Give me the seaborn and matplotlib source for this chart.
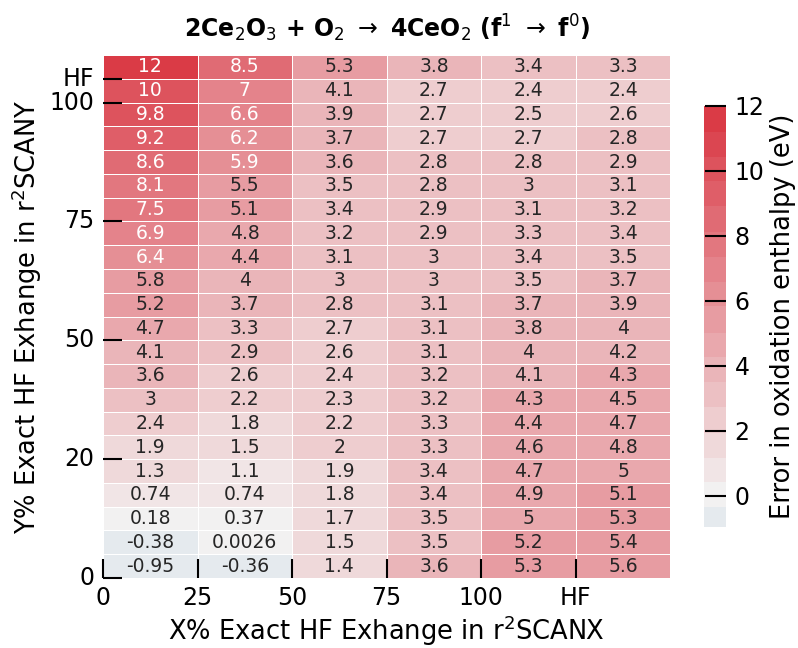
import numpy as np
import pandas as pd
import matplotlib
matplotlib.use('Agg')
import matplotlib.pyplot as plt
import seaborn as sns

# Error in oxidation enthalpy (eV), rows from top (HF) to bottom (0%)
col_0 = [12, 10, 9.8, 9.2, 8.6, 8.1, 7.5, 6.9, 6.4, 5.8, 5.2, 4.7, 4.1, 3.6, 3, 2.4, 1.9, 1.3, 0.74, 0.18, -0.38, -0.95]
col_25 = [8.5, 7, 6.6, 6.2, 5.9, 5.5, 5.1, 4.8, 4.4, 4, 3.7, 3.3, 2.9, 2.6, 2.2, 1.8, 1.5, 1.1, 0.74, 0.37, 0.0026, -0.36]
col_50 = [5.3, 4.1, 3.9, 3.7, 3.6, 3.5, 3.4, 3.2, 3.1, 3, 2.8, 2.7, 2.6, 2.4, 2.3, 2.2, 2, 1.9, 1.8, 1.7, 1.5, 1.4]
col_75 = [3.8, 2.7, 2.7, 2.7, 2.8, 2.8, 2.9, 2.9, 3, 3, 3.1, 3.1, 3.1, 3.2, 3.2, 3.3, 3.3, 3.4, 3.4, 3.5, 3.5, 3.6]
col_100 = [3.4, 2.4, 2.5, 2.7, 2.8, 3, 3.1, 3.3, 3.4, 3.5, 3.7, 3.8, 4, 4.1, 4.3, 4.4, 4.6, 4.7, 4.9, 5, 5.2, 5.3]
col_hf = [3.3, 2.4, 2.6, 2.8, 2.9, 3.1, 3.2, 3.4, 3.5, 3.7, 3.9, 4, 4.2, 4.3, 4.5, 4.7, 4.8, 5, 5.1, 5.3, 5.4, 5.6]

x_tick_pos = [0, 1, 2, 3, 4, 5]
x_tick_labels = ['0', '25', '50', '75', '100', 'HF']
y_tick_pos = [22, 17, 12, 7, 2, 1]
y_tick_labels = ['0', '20', '50', '75', '100', 'HF']

data = pd.DataFrame({'0': col_0, '25': col_25, '50': col_50,
                     '75': col_75, '100': col_100, 'HF': col_hf})

plt.rcParams['font.family'] = ['DejaVu Sans']

fig = plt.figure(figsize=(7.98, 6.48), dpi=100)
ax = fig.add_axes([0.129, 0.108, 0.711, 0.807])
cax = fig.add_axes([0.882, 0.187, 0.028, 0.65])

cmap = sns.diverging_palette(240, 10, n=31)
sns.heatmap(data, ax=ax, cbar_ax=cax, cmap=cmap, center=0,
            annot=True, fmt='.2g', annot_kws={'fontsize': 13.5},
            linewidths=0.6, linecolor='white')

ax.set_xticks(x_tick_pos)
ax.set_xticklabels(x_tick_labels, rotation=0)
ax.set_yticks(y_tick_pos)
ax.set_yticklabels(y_tick_labels, rotation=0)
ax.tick_params(axis='both', direction='in', length=14, width=1.5,
               labelsize=17, color='black', pad=6, bottom=True, left=True)

ax.set_xlabel(r'X% Exact HF Exhange in r$^2$SCANX', fontsize=18.5, labelpad=2)
ax.set_ylabel(r'Y% Exact HF Exhange in r$^2$SCANY', fontsize=18.5)
ax.set_title(r'2Ce$_2$O$_3$ + O$_2$ $\rightarrow$ 4CeO$_2$ (f$^1$ $\rightarrow$ f$^0$)',
             fontsize=17, fontweight='bold', pad=13)

cax.tick_params(direction='in', length=15, width=1.5, labelsize=17,
                color='black', pad=6, right=True)
cax.set_ylabel('Error in oxidation enthalpy (eV)', fontsize=18.5)
for s in cax.spines.values():
    s.set_visible(False)

fig.savefig('out.png', dpi=100)
